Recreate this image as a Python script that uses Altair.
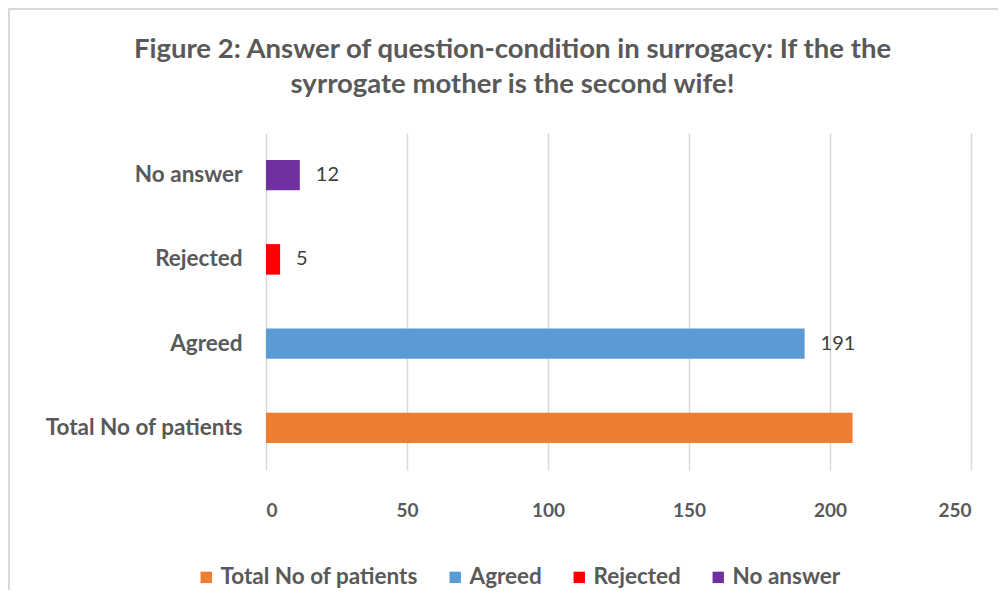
import altair as alt
import pandas as pd

categories = ["No answer", "Rejected", "Agreed", "Total No of patients"]
values = [12, 5, 191, 208]
labels = ["12", "5", "191", ""]
legend_order = ["Total No of patients", "Agreed", "Rejected", "No answer"]
legend_colors = ["#ED7D31", "#5B9BD5", "#FF0000", "#7030A0"]
x_ticks = [0, 50, 100, 150, 200, 250]

df = pd.DataFrame({"category": categories, "value": values, "label": labels})

FONT = "Lato"
GRAY = "#595959"

y_enc = alt.Y("category:N", sort=categories, title=None,
              scale=alt.Scale(paddingInner=0.638, paddingOuter=0.319),
              axis=alt.Axis(labelFont=FONT, labelFontSize=22.5, labelFontWeight="bold",
                            labelColor=GRAY, labelPadding=24, ticks=False, domain=False,
                            grid=False, labelLimit=400))
x_enc = alt.X("value:Q", title=None,
              scale=alt.Scale(domain=[0, 250], nice=False),
              axis=alt.Axis(values=x_ticks, labelFont=FONT, labelFontSize=19,
                            labelFontWeight="bold", labelColor=GRAY, labelPadding=31,
                            ticks=False, domain=False, grid=True, gridColor="#D9D9D9",
                            gridWidth=1.5))

bars = alt.Chart(df).mark_bar().encode(
    x=x_enc,
    y=y_enc,
    color=alt.Color("category:N",
                    scale=alt.Scale(domain=legend_order, range=legend_colors),
                    legend=alt.Legend(title=None, orient="none", direction="horizontal",
                                      legendX=-71, legendY=433,
                                      symbolType="square", symbolSize=130,
                                      symbolStrokeWidth=0, labelFont=FONT,
                                      labelFontSize=22.5, labelFontWeight="bold",
                                      labelColor=GRAY, columnPadding=26,
                                      labelOffset=3, labelLimit=400)),
)

text = alt.Chart(df).mark_text(align="left", baseline="middle", dx=16,
                               font=FONT, fontSize=20, color="#404040").encode(
    x="value:Q",
    y=alt.Y("category:N", sort=categories),
    text="label:N",
)

frame = alt.Chart(df).mark_rect(fill=None, stroke="#D9D9D9", strokeWidth=2).encode(
    x=alt.value(-257), x2=alt.value(760), y=alt.value(-124), y2=alt.value(500)
)

chart = alt.layer(frame, bars, text).properties(
    width=705,
    height=337,
    autosize=alt.AutoSizeParams(type="none"),
    padding={"left": 258, "top": 125, "right": 27, "bottom": 120},
    title=alt.TitleParams(
        text=["Figure 2: Answer of question-condition in surrogacy: If the the",
              "syrrogate mother is the second wife!"],
        font=FONT, fontSize=27.5, fontWeight="bold", color=GRAY,
        anchor="middle", dx=-106, dy=126, offset=36, lineHeight=35,
    ),
).configure_view(stroke=None)

chart.save("out.html", embed_options={"renderer": "svg", "actions": False})
